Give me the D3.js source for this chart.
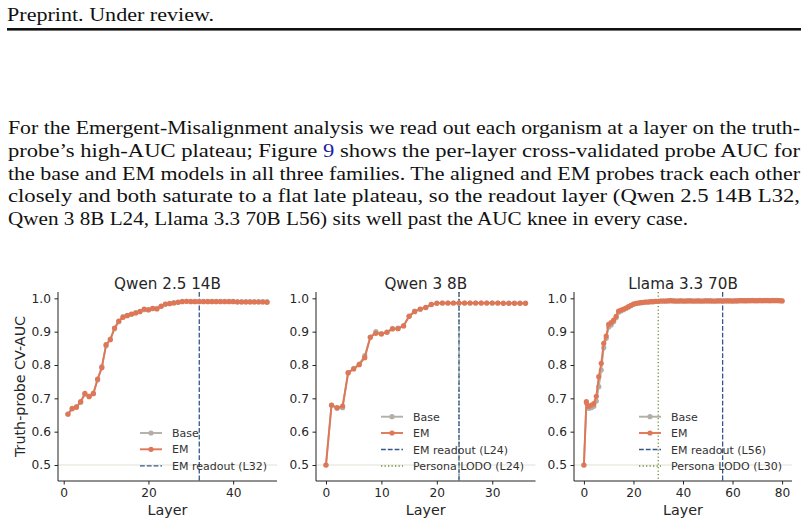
<!DOCTYPE html>
<html><head><meta charset="utf-8">
<script src="https://cdn.jsdelivr.net/npm/d3@7"></script>
<style>html,body{margin:0;padding:0;background:#fff;}svg{display:block;}</style>
</head><body>
<svg id="c" width="808" height="525"></svg>
<script>
// ---------------- data ----------------
const panelTitles = ["Qwen 2.5 14B", "Qwen 3 8B", "Llama 3.3 70B"];
const yTicks = [0.5, 0.6, 0.7, 0.8, 0.9, 1.0];
const xTicks1 = [0, 20, 40];
const xTicks2 = [0, 10, 20, 30];
const xTicks3 = [0, 20, 40, 60, 80];

const qwen25Start = 1;
const qwen25Base = [0.652,0.668,0.675,0.688,0.712,0.707,0.716,0.755,0.795,0.858,
  0.878,0.909,0.930,0.945,0.949,0.952,0.957,0.961,0.966,0.967,
  0.969,0.970,0.977,0.982,0.985,0.987,0.989,0.991,0.991,0.991,
  0.991,0.991,0.991,0.991,0.991,0.991,0.991,0.991,0.991,0.991,
  0.990,0.990,0.990,0.990,0.990,0.990,0.990,0.990];
const qwen25EM = [0.653,0.670,0.673,0.690,0.715,0.705,0.714,0.758,0.792,0.861,
  0.876,0.911,0.932,0.943,0.948,0.953,0.956,0.960,0.968,0.965,
  0.970,0.968,0.976,0.983,0.984,0.986,0.988,0.990,0.991,0.990,
  0.990,0.990,0.990,0.990,0.990,0.990,0.990,0.990,0.990,0.990,
  0.989,0.989,0.989,0.989,0.989,0.989,0.989,0.988];

const qwen3Start = 0;
const qwen3Base = [0.500,0.679,0.670,0.672,0.776,0.790,0.803,0.828,0.884,0.900,
  0.894,0.899,0.910,0.911,0.918,0.947,0.962,0.967,0.972,0.981,
  0.986,0.986,0.986,0.986,0.986,0.986,0.986,0.986,0.986,0.986,
  0.986,0.986,0.986,0.986,0.986,0.986,0.986];
const qwen3EM = [0.500,0.680,0.672,0.677,0.777,0.788,0.801,0.822,0.883,0.895,
  0.893,0.898,0.908,0.909,0.917,0.946,0.960,0.968,0.973,0.982,
  0.985,0.986,0.986,0.986,0.986,0.986,0.986,0.986,0.986,0.986,
  0.986,0.986,0.985,0.985,0.985,0.985,0.985];

const llamaStart = 0;
const llamaBase = [0.500,0.686,0.670,0.672,0.676,0.692,0.735,0.785,0.852,0.880,
  0.914,0.920,0.930,0.942,0.958,0.962,0.966,0.970,0.974,0.978,
  0.982,0.984,0.986,0.987,0.988,0.989,0.989,0.990,0.990,0.991,
  0.991,0.992,0.992,0.992,0.993,0.993,0.993,0.992,0.992,0.993,
  0.992,0.992,0.993,0.993,0.992,0.992,0.993,0.992,0.992,0.993,
  0.993,0.993,0.992,0.992,0.993,0.993,0.992,0.993,0.993,0.993,
  0.992,0.993,0.993,0.993,0.993,0.992,0.993,0.993,0.994,0.993,
  0.993,0.994,0.993,0.994,0.994,0.993,0.994,0.994,0.994,0.993,0.993];
const llamaEM = [0.500,0.690,0.676,0.680,0.684,0.706,0.765,0.805,0.865,0.887,
  0.922,0.927,0.935,0.946,0.962,0.965,0.968,0.971,0.975,0.979,
  0.983,0.985,0.986,0.987,0.988,0.989,0.989,0.990,0.990,0.991,
  0.991,0.992,0.992,0.992,0.992,0.993,0.992,0.992,0.992,0.992,
  0.992,0.992,0.992,0.992,0.992,0.992,0.992,0.992,0.992,0.992,
  0.992,0.992,0.992,0.992,0.992,0.992,0.992,0.992,0.992,0.992,
  0.992,0.992,0.992,0.993,0.993,0.993,0.993,0.993,0.993,0.993,
  0.993,0.993,0.993,0.993,0.993,0.993,0.993,0.993,0.993,0.993,0.992];

const readoutLayers = [32, 24, 56];
const lodoLayers = [null, 24, 30];
const legendLabels1 = ["Base", "EM", "EM readout (L32)"];
const legendLabels2 = ["Base", "EM", "EM readout (L24)", "Persona LODO (L24)"];
const legendLabels3 = ["Base", "EM", "EM readout (L56)", "Persona LODO (L30)"];

const headerText = "Preprint. Under review.";
const paraLines = [
  [["For the Emergent-Misalignment analysis we read out each organism at a layer on the truth-", null]],
  [["probe\u2019s high-AUC plateau; Figure ", null], ["9", "link"], [" shows the per-layer cross-validated probe AUC for", null]],
  [["the base and EM models in all three families. The aligned and EM probes track each other", null]],
  [["closely and both saturate to a flat late plateau, so the readout layer (Qwen 2.5 14B L32,", null]],
  [["Qwen 3 8B L24, Llama 3.3 70B L56) sits well past the AUC knee in every case.", null]]
];

// ---------------- drawing ----------------
const svg = d3.select("#c");
const serif = "'Liberation Serif', 'DejaVu Serif', serif";
const sans = "'DejaVu Sans', sans-serif";

svg.append("text").attr("x", 7).attr("y", 21)
  .attr("font-family", serif).attr("font-size", 19.5).attr("fill", "#111")
  .attr("textLength", 207).attr("lengthAdjust", "spacingAndGlyphs")
  .text(headerText);
svg.append("rect").attr("x", 7).attr("y", 28).attr("width", 794).attr("height", 2.6).attr("fill", "#111");

const lineBase = [134, 157, 179.5, 202, 224.5];
const lineWidths = [792, 792, 792, 792, 680];
paraLines.forEach((segs, i) => {
  const t = svg.append("text").attr("x", 8).attr("y", lineBase[i])
    .attr("font-family", serif).attr("font-size", 19.5).attr("fill", "#111")
    .attr("textLength", lineWidths[i]).attr("lengthAdjust", "spacingAndGlyphs");
  segs.forEach(s => {
    t.append("tspan").attr("fill", s[1] === "link" ? "#1f1fa0" : "#111").text(s[0]);
  });
});

const C = {em: "#df7756", base: "#b3afa7", readout: "#34578a", lodo: "#6f8f3e", ref: "#ebebe4", txt: "#262626"};
const yTop = 292, yBot = 481;
const panels = [
  {left: 58, right: 277, start: qwen25Start, base: qwen25Base, em: qwen25EM, ticks: xTicks1, legend: legendLabels1, lx: 140},
  {left: 316, right: 535.5, start: qwen3Start, base: qwen3Base, em: qwen3EM, ticks: xTicks2, legend: legendLabels2, lx: 381},
  {left: 574, right: 792, start: llamaStart, base: llamaBase, em: llamaEM, ticks: xTicks3, legend: legendLabels3, lx: 639}
];
const y = d3.scaleLinear().domain([0.452, 1.019]).range([yBot, yTop]);

panels.forEach((p, pi) => {
  const n = p.em.length;
  const layers = d3.range(p.start, p.start + n);
  const ext = d3.extent(layers);
  const m = (ext[1] - ext[0]) * 0.05;
  const x = d3.scaleLinear().domain([ext[0] - m, ext[1] + m]).range([p.left, p.right]);
  const g = svg.append("g");

  g.append("line").attr("x1", p.left).attr("x2", p.right).attr("y1", y(0.5)).attr("y2", y(0.5))
    .attr("stroke", C.ref).attr("stroke-width", 1.6);

  if (lodoLayers[pi] !== null) {
    g.append("line").attr("x1", x(lodoLayers[pi])).attr("x2", x(lodoLayers[pi])).attr("y1", yTop).attr("y2", yBot)
      .attr("stroke", C.lodo).attr("stroke-width", 1.3).attr("stroke-dasharray", "1.3,2.2");
  }
  g.append("line").attr("x1", x(readoutLayers[pi])).attr("x2", x(readoutLayers[pi])).attr("y1", yTop).attr("y2", yBot)
    .attr("stroke", C.readout).attr("stroke-width", 1.3).attr("stroke-dasharray", "4.8,2");

  const line = d3.line().x((d, i) => x(layers[i])).y(d => y(d));
  [[p.base, C.base], [p.em, C.em]].forEach(([vals, col]) => {
    g.append("path").datum(vals).attr("d", line).attr("fill", "none")
      .attr("stroke", col).attr("stroke-width", 1.9).attr("stroke-linejoin", "round");
    g.selectAll(null).data(vals).enter().append("circle")
      .attr("cx", (d, i) => x(layers[i])).attr("cy", d => y(d)).attr("r", 2.6).attr("fill", col);
  });

  const yAxis = d3.axisLeft(y).tickValues(yTicks).tickFormat(d3.format(".1f")).tickSize(3.5).tickPadding(3.5);
  const ya = svg.append("g").attr("transform", `translate(${p.left},0)`).call(yAxis);
  ya.select(".domain").attr("d", `M0,${yTop}V${yBot}`).attr("stroke", "#222").attr("stroke-width", 1);
  const xAxis = d3.axisBottom(x).tickValues(p.ticks).tickFormat(d3.format("d")).tickSize(3.5).tickPadding(3.5);
  const xa = svg.append("g").attr("transform", `translate(0,${yBot})`).call(xAxis);
  xa.select(".domain").attr("d", `M${p.left},0H${p.right}`).attr("stroke", "#222").attr("stroke-width", 1);
  [ya, xa].forEach(a => {
    a.selectAll(".tick line").attr("stroke", "#222");
    a.selectAll("text").attr("font-family", sans).attr("font-size", 12.2).attr("fill", C.txt);
  });

  svg.append("text").attr("x", (p.left + p.right) / 2).attr("y", 288.5).attr("text-anchor", "middle")
    .attr("font-family", sans).attr("font-size", 15.2).attr("fill", C.txt).text(panelTitles[pi]);
  svg.append("text").attr("x", (p.left + p.right) / 2).attr("y", 515).attr("text-anchor", "middle")
    .attr("font-family", sans).attr("font-size", 14.3).attr("fill", C.txt).text("Layer");

  const nL = p.legend.length;
  const rowY = nL === 3 ? [433, 449.3, 465.8] : [416.7, 433, 449.5, 466];
  const styles = [
    {col: C.base, dash: null, marker: true, w: 1.9},
    {col: C.em, dash: null, marker: true, w: 1.9},
    {col: C.readout, dash: "4.8,2", marker: false, w: 1.3},
    {col: C.lodo, dash: "1.3,2.2", marker: false, w: 1.3}
  ];
  p.legend.forEach((lab, k) => {
    const s = styles[k];
    const ly = rowY[k];
    const lg = svg.append("g");
    lg.append("line").attr("x1", p.lx).attr("x2", p.lx + 22).attr("y1", ly).attr("y2", ly)
      .attr("stroke", s.col).attr("stroke-width", s.w).attr("stroke-dasharray", s.dash);
    if (s.marker) lg.append("circle").attr("cx", p.lx + 11).attr("cy", ly).attr("r", 2.6).attr("fill", s.col);
    lg.append("text").attr("x", p.lx + 32).attr("y", ly + 4).attr("font-family", sans)
      .attr("font-size", 11).attr("fill", "#333").text(lab);
  });
});

svg.append("text").attr("transform", `translate(25,${(yTop + yBot) / 2}) rotate(-90)`)
  .attr("text-anchor", "middle").attr("font-family", sans).attr("font-size", 14.3).attr("fill", C.txt)
  .text("Truth-probe CV-AUC");
</script>
</body></html>
